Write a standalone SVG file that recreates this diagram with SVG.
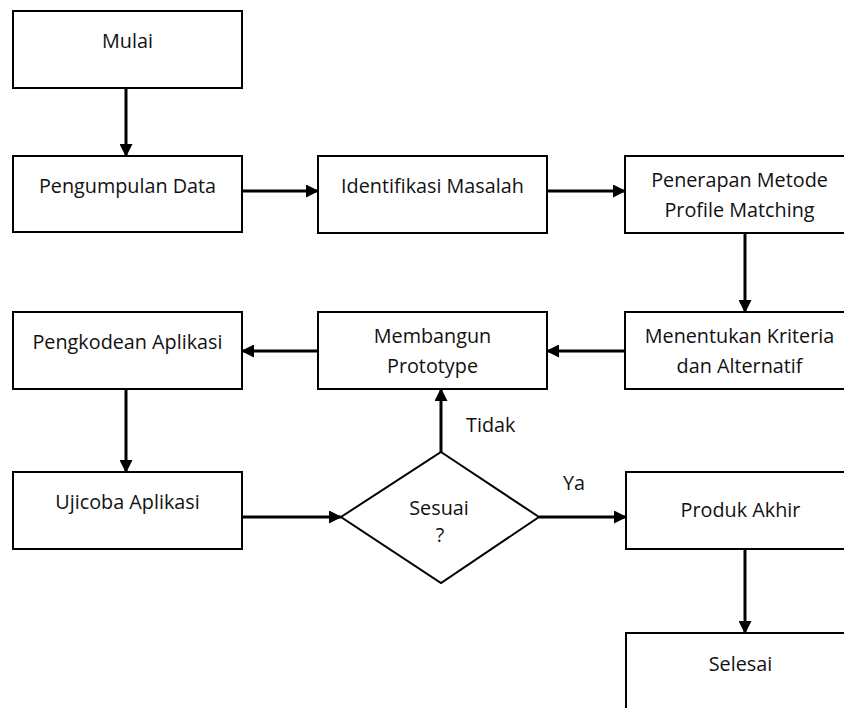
<svg xmlns="http://www.w3.org/2000/svg" width="844" height="708" viewBox="0 0 844 708">
<style>
.box{fill:#fff;stroke:#000;stroke-width:2}
.dia{fill:#fff;stroke:#000;stroke-width:2}
.t{font-family:"Open Sans","Liberation Sans",sans-serif;font-size:19.8px;fill:#111;text-anchor:middle}
.lbl{font-family:"Open Sans","Liberation Sans",sans-serif;font-size:19.8px;fill:#111}
.c{fill:none;stroke:#000;stroke-width:3;marker-end:url(#ah)}
</style>
<defs>
<marker id="ah" markerUnits="userSpaceOnUse" markerWidth="13" markerHeight="13" refX="12" refY="6.5" orient="auto">
<path d="M0,0 L13,6.5 L0,13 Z" fill="#000"/>
</marker>
</defs>
<rect width="844" height="708" fill="#fff"/>
<g id="connectors">
<path class="c" d="M126,88 V156"/>
<path class="c" d="M242,191 H318"/>
<path class="c" d="M547,191 H625"/>
<path class="c" d="M745,233 V312"/>
<path class="c" d="M625,351 H547"/>
<path class="c" d="M318,351 H242"/>
<path class="c" d="M126,389 V472"/>
<path class="c" d="M242,517 H341"/>
<path class="c" d="M441,452 V389"/>
<path class="c" d="M539,517 H626"/>
<path class="c" d="M745,549 V633"/>
</g>
<g id="mulai"><rect class="box" x="13" y="11" width="229" height="77"/><text class="t" x="127.5" y="48">Mulai</text></g>
<g id="pengumpulan"><rect class="box" x="13" y="156" width="229" height="76"/><text class="t" x="127.5" y="193">Pengumpulan Data</text></g>
<g id="identifikasi"><rect class="box" x="318" y="156" width="229" height="77"/><text class="t" x="432.5" y="193">Identifikasi Masalah</text></g>
<g id="penerapan"><rect class="box" x="625" y="156" width="229" height="77"/><text class="t" x="739.5" y="187">Penerapan Metode</text><text class="t" x="739.5" y="217">Profile Matching</text></g>
<g id="menentukan"><rect class="box" x="625" y="312" width="229" height="77"/><text class="t" x="739.5" y="343">Menentukan Kriteria</text><text class="t" x="739.5" y="373">dan Alternatif</text></g>
<g id="membangun"><rect class="box" x="318" y="312" width="229" height="77"/><text class="t" x="432.5" y="343">Membangun</text><text class="t" x="432.5" y="373">Prototype</text></g>
<g id="pengkodean"><rect class="box" x="13" y="312" width="229" height="77"/><text class="t" x="127.5" y="349">Pengkodean Aplikasi</text></g>
<g id="ujicoba"><rect class="box" x="13" y="472" width="229" height="77"/><text class="t" x="127.5" y="509">Ujicoba Aplikasi</text></g>
<g id="sesuai"><polygon class="dia" points="441,452 539,517 441,583 341,517"/><text class="t" x="439" y="515">Sesuai</text><text class="t" x="440" y="542">?</text></g>
<g id="produk"><rect class="box" x="626" y="472" width="229" height="77"/><text class="t" x="740.5" y="517">Produk Akhir</text></g>
<g id="selesai"><rect class="box" x="626" y="633" width="229" height="90"/><text class="t" x="740.5" y="671">Selesai</text></g>
<text class="lbl" x="466" y="432">Tidak</text>
<text class="lbl" x="563" y="490">Ya</text>
</svg>
